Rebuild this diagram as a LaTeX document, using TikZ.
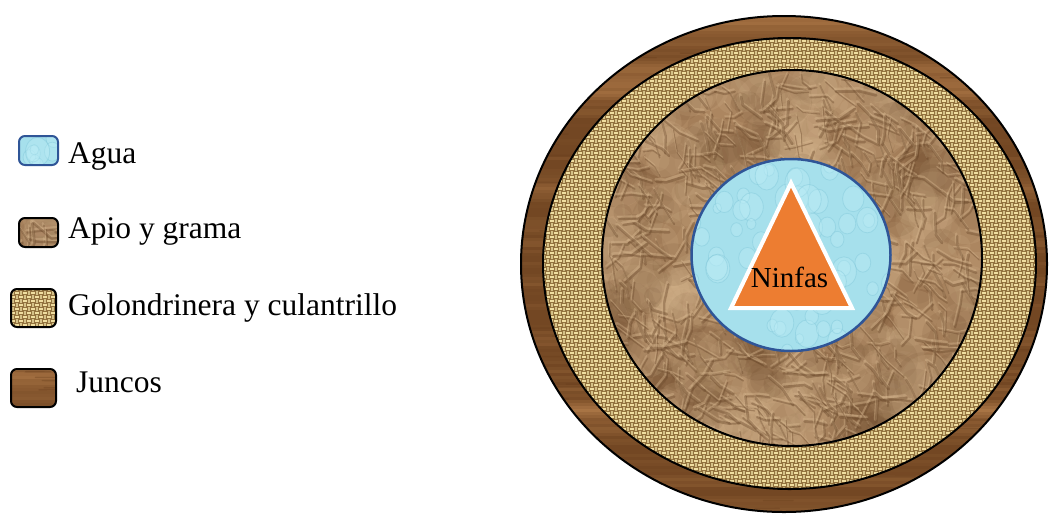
\documentclass[tikz,border=0pt]{standalone}
\usepackage{fontspec}
\setmainfont{Liberation Serif}
\usetikzlibrary{shapes.geometric,positioning}

\definecolor{aguablue}{RGB}{47,85,151}
\definecolor{aguabase}{RGB}{166,224,236}
\definecolor{agualt}{RGB}{190,238,247}
\definecolor{aguadk}{RGB}{118,192,212}
\definecolor{papelbase}{RGB}{172,134,96}
\definecolor{papeldk}{RGB}{108,74,44}
\definecolor{papellt}{RGB}{214,182,142}
\definecolor{yutebase}{RGB}{146,114,62}
\definecolor{yutelt}{RGB}{240,222,160}
\definecolor{yutedk}{RGB}{104,78,38}
\definecolor{maderadk}{RGB}{104,62,28}
\definecolor{maderalt}{RGB}{178,124,74}
\definecolor{ninfaorange}{RGB}{237,125,49}

\newcommand{\legfont}{\fontsize{31.5}{36}\selectfont}
\newcommand{\ninfafont}{\fontsize{29}{34}\selectfont}

% wood grain: x0, y0, width, height, number of dark streaks
\newcommand{\maderatex}[5]{%
  \pgfmathsetseed{11}\xdef\lastmix{55}%
  \fill[maderalt!55!maderadk] (#1,#2) rectangle ++(#3,#4);
  \pgfmathtruncatemacro{\nb}{#4/3}
  \foreach \k in {0,...,\nb}{
    \pgfmathsetmacro{\yy}{#2+3*\k}
    \pgfmathtruncatemacro{\mix}{max(15,min(95,\lastmix+36*rnd-18))}
    \xdef\lastmix{\mix}
    \draw[maderalt!\mix!maderadk, line width=3.4pt] (#1,\yy) -- ++(#3,0);
  }
  \foreach \i in {1,...,#5}{
    \pgfmathsetmacro{\xa}{#1+#3*rnd}
    \pgfmathsetmacro{\ya}{#2+#4*rnd}
    \pgfmathsetmacro{\len}{15+60*rnd}
    \draw[maderadk, opacity=.35, line width=1.4pt, line cap=round] (\xa,\ya) -- ++(\len,1.2*rnd-0.6);
  }
}

% burlap weave: x0, y0, width, height
\newcommand{\yutetex}[4]{%
  \fill[yutebase] (#1,#2) rectangle ++(#3,#4);
  \pgfmathtruncatemacro{\nh}{#4/4}
  \foreach \k in {0,...,\nh}{
    \pgfmathsetmacro{\yy}{#2+4*\k}
    \pgfmathtruncatemacro{\ph}{mod(\k,2)*4}
    \draw[yutelt, line width=1.8pt, dash pattern=on 4pt off 4pt, dash phase=\ph pt] (#1,\yy) -- ++(#3,0);
  }
  \pgfmathtruncatemacro{\nv}{#3/4}
  \foreach \k in {0,...,\nv}{
    \pgfmathsetmacro{\xx}{#1+2+4*\k}
    \pgfmathtruncatemacro{\ph}{mod(\k+1,2)*4+2}
    \draw[yutelt!80!yutedk, line width=1.8pt, dash pattern=on 4pt off 4pt, dash phase=\ph pt] (\xx,#2) -- ++(0,#4);
  }
}

% crumpled paper: x0, y0, width, height, number of creases
\newcommand{\papeltex}[5]{%
  \pgfmathsetseed{3}%
  \fill[papelbase] (#1,#2) rectangle ++(#3,#4);
  \foreach \i in {1,...,#5}{
    \pgfmathsetmacro{\xa}{#1+#3*rnd}
    \pgfmathsetmacro{\ya}{#2+#4*rnd}
    \pgfmathsetmacro{\rr}{8+22*rnd}
    \ifodd\i
      \fill[papeldk, opacity=.12] (\xa,\ya) circle[radius=\rr pt];
    \else
      \fill[papellt, opacity=.16] (\xa,\ya) circle[radius=\rr pt];
    \fi
  }
  \foreach \i in {1,...,#5}{
    \pgfmathsetmacro{\xa}{#1+#3*rnd}
    \pgfmathsetmacro{\ya}{#2+#4*rnd}
    \pgfmathsetmacro{\an}{-10+130*rnd}
    \pgfmathsetmacro{\lb}{8+16*rnd}
    \pgfmathsetmacro{\lc}{8+16*rnd}
    \pgfmathsetmacro{\tw}{-50+100*rnd}
    \pgfmathsetmacro{\lw}{1+2*rnd}
    \draw[papellt, opacity=.4, line width=\lw pt, line cap=round, line join=round]
      (\xa,\ya) -- ++(\an:\lb) -- ++(\an+\tw:\lc);
    \draw[papeldk, opacity=.4, line width=\lw pt, line cap=round, line join=round]
      (\xa+1,\ya+2.5) -- ++(\an:\lb) -- ++(\an+\tw:\lc);
  }
}

% water bubbles: x0, y0, width, height, number of bubbles
\newcommand{\aguatex}[5]{%
  \pgfmathsetseed{9}%
  \fill[aguabase] (#1,#2) rectangle ++(#3,#4);
  \foreach \i in {1,...,#5}{
    \pgfmathsetmacro{\xa}{#1+#3*rnd}
    \pgfmathsetmacro{\ya}{#2+#4*rnd}
    \pgfmathsetmacro{\rr}{4+9*rnd}
    \draw[aguadk, fill=agualt, opacity=.35, line width=.8pt]
      (\xa,\ya) ellipse[x radius=\rr pt, y radius=1.2*\rr pt];
  }
}

\tikzset{
  ringline/.style={ellipse, draw=black, line width=2pt, inner sep=0pt},
  legbox/.style={rectangle, rounded corners=6pt, draw=black, line width=2pt, inner sep=0pt},
  legtext/.style={anchor=base west, inner sep=0pt, font=\legfont},
}

\begin{document}
\begin{tikzpicture}[x=1pt,y=-1pt]
  \useasboundingbox (0,0) rectangle (1049,515);

  % Legend
  \begin{scope}
    \clip[rounded corners=6pt] (19,136) rectangle (58,165);
    \aguatex{19}{136}{39}{29}{8}
  \end{scope}
  \node[legbox, draw=aguablue, minimum width=39pt, minimum height=29pt] (agua) at (38.5,150.5) {};
  \node[legtext] (agualbl) at (68,163) {Agua};

  \begin{scope}
    \clip[rounded corners=6pt] (19,218) rectangle (58,247);
    \papeltex{19}{218}{39}{29}{14}
  \end{scope}
  \node[legbox, minimum width=39pt, minimum height=29pt] (apio) at (38.5,232.5) {};
  \node[legtext] (apiolbl) at (68,238) {Apio y grama};

  \begin{scope}
    \clip[rounded corners=6pt] (11,289) rectangle (56,327);
    \yutetex{11}{289}{45}{38}
  \end{scope}
  \node[legbox, minimum width=45pt, minimum height=38pt] (golon) at (33.5,308) {};
  \node[legtext] (golonlbl) at (68,315) {Golondrinera y culantrillo};

  \begin{scope}
    \clip[rounded corners=6pt] (11,369) rectangle (56,407);
    \maderatex{11}{369}{45}{38}{6}
  \end{scope}
  \node[legbox, minimum width=45pt, minimum height=38pt] (juncos) at (33.5,388) {};
  \node[legtext] (juncoslbl) at (76,392) {Juncos};

  % Rings
  \begin{scope}
    \clip (784,264) ellipse[x radius=263pt, y radius=248pt];
    \maderatex{520}{15}{528}{498}{140}
  \end{scope}
  \node[ringline, minimum width=526pt, minimum height=496pt] (juncosring) at (784,264) {};

  \begin{scope}
    \clip (789.5,263.5) ellipse[x radius=246.5pt, y radius=225.5pt];
    \yutetex{542}{37}{495}{453}
  \end{scope}
  \node[ringline, minimum width=493pt, minimum height=451pt] (golonring) at (789.5,263.5) {};

  \begin{scope}
    \clip (792,258) ellipse[x radius=190pt, y radius=188pt];
    \papeltex{601}{69}{382}{378}{700}
  \end{scope}
  \node[ringline, minimum width=380pt, minimum height=376pt] (apioring) at (792,258) {};

  \begin{scope}
    \clip (791,255) ellipse[x radius=99.5pt, y radius=96pt];
    \aguatex{690}{158}{202}{194}{70}
  \end{scope}
  \node[ringline, draw=aguablue, line width=2.5pt, minimum width=199pt, minimum height=192pt] (aguaring) at (791,255) {};

  % Ninfas
  \draw[white, line width=4pt, fill=ninfaorange, line join=miter]
    (791,183) -- (731,308) -- (852,308) -- cycle;
  \node[anchor=base, inner sep=0pt, font=\ninfafont] (ninfas) at (789.5,287) {Ninfas};
\end{tikzpicture}
\end{document}
